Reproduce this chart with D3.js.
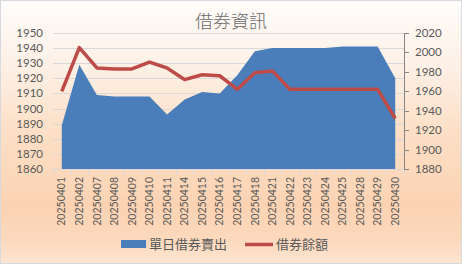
<!DOCTYPE html>
<html>
<head>
<meta charset="utf-8">
<script src="https://cdn.jsdelivr.net/npm/d3@7"></script>
<style>
html,body{margin:0;padding:0;background:#fff;}
svg{display:block;}
</style>
</head>
<body>
<svg id="chart" width="462" height="264"></svg>
<script>
const categories = ['20250401','20250402','20250407','20250408','20250409','20250410','20250411','20250414','20250415','20250416','20250417','20250418','20250421','20250422','20250423','20250424','20250425','20250428','20250429','20250430'];
const dailySell = [1889,1929,1909,1908,1908,1908,1896,1906,1911,1910,1922,1938,1940,1940,1940,1940,1941,1941,1941,1920];
const balance = [1960,2005,1984,1983,1983,1990,1984,1972,1977,1976,1962,1979,1981,1962,1962,1962,1962,1962,1962,1932];
const leftTicks = [1860,1870,1880,1890,1900,1910,1920,1930,1940,1950];
const rightTicks = [1880,1900,1920,1940,1960,1980,2000,2020];
const seriesNames = ['單日借券賣出','借券餘額'];
const title = '借券資訊';

const svg = d3.select('#chart');
const W = 462, H = 264;
const plot = {left: 53, right: 404, top: 33, bottom: 169};
const textColor = '#595959';
const numFont = 'Lato, "Liberation Sans", sans-serif';
const cjkFont = '"Noto Sans CJK TC", "Noto Sans CJK SC", sans-serif';

// background gradient
const defs = svg.append('defs');
const grad = defs.append('linearGradient').attr('id','bg').attr('x1',0).attr('y1',0).attr('x2',0).attr('y2',1);
[[0,'#fefcfa'],[0.25,'#fdf0e6'],[0.5,'#fcdfc6'],[0.78,'#fbd3b3'],[0.9,'#fcd8bc'],[1,'#fde4d0']].forEach(([o,c])=>{
  grad.append('stop').attr('offset',o).attr('stop-color',c);
});
svg.append('rect').attr('x',0.5).attr('y',0.5).attr('width',W-1).attr('height',H-1)
  .attr('fill','url(#bg)').attr('stroke','#d6d9de').attr('stroke-width',1);

const x = d3.scalePoint().domain(categories).range([plot.left, plot.right]).padding(0.5);
const yL = d3.scaleLinear().domain([1860,1950]).range([plot.bottom, plot.top]);
const yR = d3.scaleLinear().domain([1880,2020]).range([plot.bottom, plot.top]);

// gridlines
svg.append('g').selectAll('line').data(leftTicks.filter(t=>t>1860)).join('line')
  .attr('x1',plot.left).attr('x2',plot.right)
  .attr('y1',d=>Math.round(yL(d))+0.5).attr('y2',d=>Math.round(yL(d))+0.5)
  .attr('stroke','#d9d9d9').attr('stroke-width',1);

// area
const area = d3.area()
  .x((d,i)=>x(categories[i]))
  .y0(yL(1860))
  .y1(d=>yL(d));
svg.append('path').datum(dailySell).attr('d',area).attr('fill','#4a7ebb');

// x axis
const step = x.step();
const xAxisG = svg.append('g');
xAxisG.append('line').attr('x1',plot.left).attr('x2',plot.right)
  .attr('y1',plot.bottom+0.5).attr('y2',plot.bottom+0.5).attr('stroke','#d9d9d9');
xAxisG.selectAll('line.tick').data(d3.range(categories.length+1)).join('line')
  .attr('class','tick')
  .attr('x1',i=>Math.round(plot.left + i*step)+0.5).attr('x2',i=>Math.round(plot.left + i*step)+0.5)
  .attr('y1',plot.bottom).attr('y2',plot.bottom+5).attr('stroke','#d9d9d9');
xAxisG.selectAll('text').data(categories).join('text')
  .attr('transform',d=>`translate(${x(d)},${plot.bottom+8}) rotate(-90)`)
  .attr('text-anchor','end').attr('dy','0.35em')
  .attr('font-family',numFont).attr('font-size',10.5).attr('fill',textColor)
  .text(d=>d);

// left axis labels
svg.append('g').selectAll('text').data(leftTicks).join('text')
  .attr('x',43).attr('y',d=>yL(d)).attr('dy','0.35em').attr('text-anchor','end')
  .attr('font-family',numFont).attr('font-size',11.5).attr('fill',textColor)
  .text(d=>d);

// right axis
const rAxis = svg.append('g');
rAxis.append('line').attr('x1',plot.right+0.5).attr('x2',plot.right+0.5)
  .attr('y1',plot.top).attr('y2',plot.bottom+1).attr('stroke','#868686');
rAxis.selectAll('line.tick').data(rightTicks).join('line').attr('class','tick')
  .attr('x1',plot.right).attr('x2',plot.right+5)
  .attr('y1',d=>Math.round(yR(d))+0.5).attr('y2',d=>Math.round(yR(d))+0.5)
  .attr('stroke','#868686');
rAxis.selectAll('text').data(rightTicks).join('text')
  .attr('x',415).attr('y',d=>yR(d)).attr('dy','0.35em').attr('text-anchor','start')
  .attr('font-family',numFont).attr('font-size',11.5).attr('fill',textColor)
  .text(d=>d);

// line
const line = d3.line().x((d,i)=>x(categories[i])).y(d=>yR(d));
svg.append('path').datum(balance).attr('d',line).attr('fill','none')
  .attr('stroke','#be4b48').attr('stroke-width',3.5).attr('stroke-linejoin','round');

// title
svg.append('text').attr('x',231).attr('y',22).attr('dy','0.35em').attr('text-anchor','middle')
  .attr('font-family',cjkFont).attr('font-size',18).attr('font-weight',300).attr('fill','#6a6a6a').text(title);

// legend
const lg = svg.append('g');
lg.append('rect').attr('x',121).attr('y',240).attr('width',25).attr('height',8).attr('fill','#4a7ebb');
lg.append('text').attr('x',149).attr('y',244).attr('dy','0.35em')
  .attr('font-family',cjkFont).attr('font-size',13).attr('fill',textColor).text(seriesNames[0]);
lg.append('line').attr('x1',245).attr('x2',273).attr('y1',244.5).attr('y2',244.5)
  .attr('stroke','#be4b48').attr('stroke-width',3.5);
lg.append('text').attr('x',276).attr('y',244).attr('dy','0.35em')
  .attr('font-family',cjkFont).attr('font-size',13).attr('fill',textColor).text(seriesNames[1]);
</script>
</body>
</html>
